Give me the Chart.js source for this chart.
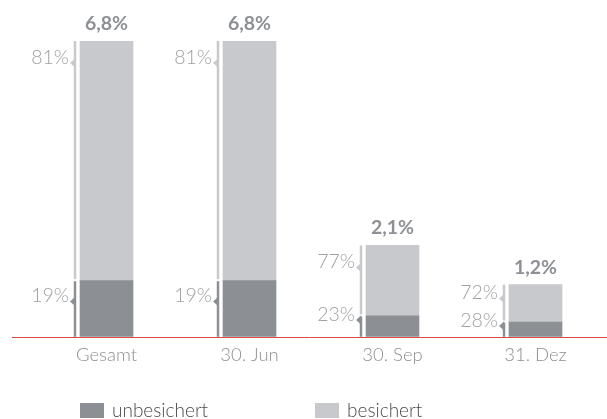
<!DOCTYPE html>
<html>
<head>
<meta charset="utf-8">
<script src="https://cdn.jsdelivr.net/npm/chart.js@4"></script>
<style>
  html, body { margin: 0; padding: 0; background: #fff; }
</style>
</head>
<body>
<canvas id="chart" width="607" height="419"></canvas>
<script>
const categories = ['Gesamt', '30. Jun', '30. Sep', '31. Dez'];
const unbesichert = [1.29, 1.29, 0.48, 0.34];
const besichert = [5.51, 5.51, 1.62, 0.86];
const totalLabels = ['6,8%', '6,8%', '2,1%', '1,2%'];
const unbesichertLabels = ['19%', '19%', '23%', '28%'];
const besichertLabels = ['81%', '81%', '77%', '72%'];

const DARK = '#8c9095';
const LIGHT = '#c8c9cd';
const FONT = 'Lato, "Open Sans", sans-serif';

// klammern + prozentwerte links neben den balken
const bracketPlugin = {
  id: 'brackets',
  afterDatasetsDraw(chart) {
    const ctx = chart.ctx;
    const segLabels = [unbesichertLabels, besichertLabels];
    ctx.save();
    chart.data.datasets.forEach((ds, di) => {
      const meta = chart.getDatasetMeta(di);
      meta.data.forEach((bar, i) => {
        const bx = bar.x - bar.width / 2 - 5;
        const top = bar.y;
        const bottom = bar.base;
        const h = bottom - top;
        const y1 = di === 1 ? top : top + 0.5;
        const y2 = di === 1 ? bottom - 1.5 : bottom;
        ctx.strokeStyle = ds.backgroundColor;
        ctx.lineWidth = 2.5;
        ctx.beginPath();
        ctx.moveTo(bx, y1);
        ctx.lineTo(bx, y2);
        ctx.stroke();

        const off = h < 25 ? 4 : Math.min(22, h * 0.37);
        const ny = top + off;
        ctx.fillStyle = ds.backgroundColor;
        ctx.beginPath();
        ctx.moveTo(bx - 5, ny);
        ctx.lineTo(bx, ny - 4.5);
        ctx.lineTo(bx, ny + 4.5);
        ctx.closePath();
        ctx.fill();

        ctx.fillStyle = '#a0a0a0';
        ctx.font = '300 19.5px ' + FONT;
        ctx.textAlign = 'right';
        ctx.textBaseline = 'alphabetic';
        ctx.fillText(segLabels[di][i], bx - 6, ny + 1);
      });
    });

    // summen oben
    const topMeta = chart.getDatasetMeta(1);
    topMeta.data.forEach((bar, i) => {
      ctx.fillStyle = '#8d9196';
      ctx.font = 'bold 19.5px ' + FONT;
      ctx.textAlign = 'center';
      ctx.textBaseline = 'alphabetic';
      ctx.fillText(totalLabels[i], bar.x, bar.y - 11);
    });
    ctx.restore();
  },
  afterDraw(chart) {
    const ctx = chart.ctx;
    const y0 = chart.scales.y.getPixelForValue(0);
    ctx.save();
    ctx.strokeStyle = '#e04848';
    ctx.lineWidth = 1;
    ctx.beginPath();
    ctx.moveTo(12, Math.round(y0) + 0.5);
    ctx.lineTo(chart.width, Math.round(y0) + 0.5);
    ctx.stroke();

    // legende
    const items = [[80, 0], [315, 1]];
    ctx.font = '300 19px ' + FONT;
    ctx.textAlign = 'left';
    ctx.textBaseline = 'middle';
    items.forEach(([x, di]) => {
      const ds = chart.data.datasets[di];
      ctx.fillStyle = ds.backgroundColor;
      ctx.fillRect(x, 403, 24, 15);
      ctx.fillStyle = '#4a4a4a';
      ctx.fillText(ds.label, x + 32, 411);
    });
    ctx.restore();
  }
};

new Chart(document.getElementById('chart'), {
  type: 'bar',
  data: {
    labels: categories,
    datasets: [
      { label: 'unbesichert', data: unbesichert, backgroundColor: DARK, barThickness: 53 },
      { label: 'besichert', data: besichert, backgroundColor: LIGHT, barThickness: 53 }
    ]
  },
  options: {
    responsive: false,
    animation: false,
    devicePixelRatio: 1,
    layout: { padding: { left: 35, right: 0, top: 41, bottom: 46 } },
    plugins: {
      legend: { display: false },
      tooltip: { enabled: false }
    },
    scales: {
      x: {
        stacked: true,
        grid: { display: false, drawTicks: false },
        border: { display: false },
        ticks: {
          color: '#8e8e8e',
          padding: 7,
          font: { family: FONT, size: 18.5, weight: '300' }
        }
      },
      y: {
        stacked: true,
        display: false,
        min: 0,
        max: 6.8
      }
    }
  },
  plugins: [bracketPlugin]
});
</script>
</body>
</html>
